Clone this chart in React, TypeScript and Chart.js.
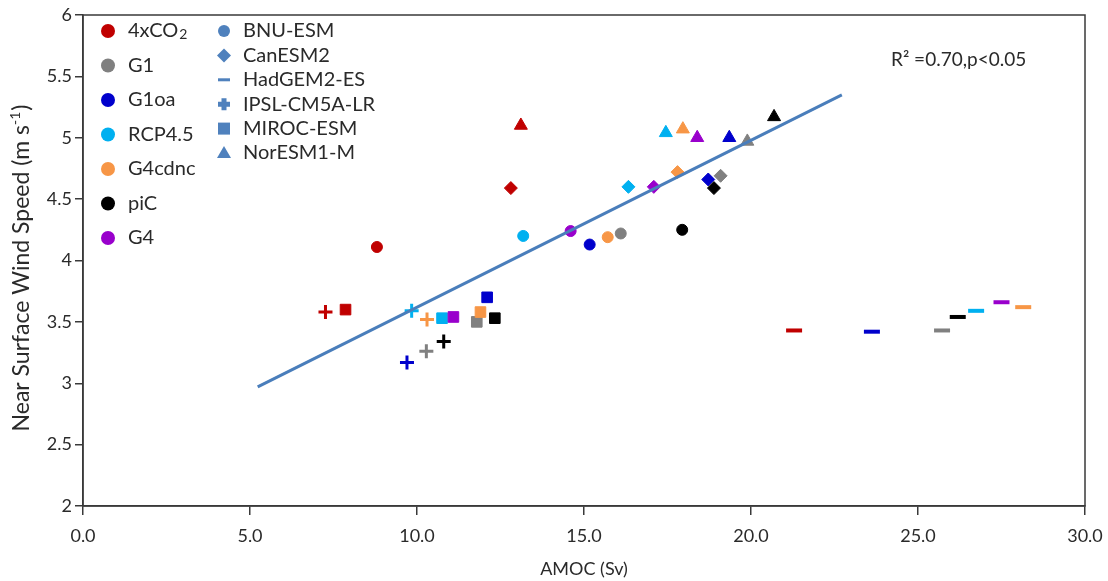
import React, { useEffect, useRef } from 'react';
import { Chart, registerables } from 'chart.js';

Chart.register(...registerables);

// Experiments (colours) and models (marker shapes)
const experiments = ['4xCO2', 'G1', 'G1oa', 'RCP4.5', 'G4cdnc', 'piC', 'G4'];
const experimentColors = ['#c00000', '#808080', '#0000cc', '#00b0f0', '#f79646', '#000000', '#9900cc'];
const models = ['BNU-ESM', 'CanESM2', 'HadGEM2-ES', 'IPSL-CM5A-LR', 'MIROC-ESM', 'NorESM1-M'];

// Values per model, in experiment order: 4xCO2, G1, G1oa, RCP4.5, G4cdnc, piC, G4
const bnuX = [8.8, 16.1, 15.17, 13.18, 15.71, 17.94, 14.6];
const bnuY = [4.11, 4.22, 4.13, 4.2, 4.19, 4.25, 4.24];
const canX = [12.81, 19.09, 18.72, 16.33, 17.8, 18.89, 17.09];
const canY = [4.59, 4.69, 4.66, 4.6, 4.72, 4.59, 4.6];
const hadX = [21.29, 25.72, 23.62, 26.74, 28.15, 26.19, 27.5];
const hadY = [3.43, 3.43, 3.42, 3.59, 3.62, 3.54, 3.66];
const ipslX = [7.26, 10.28, 9.7, 9.84, 10.3, 10.8, null];
const ipslY = [3.58, 3.26, 3.17, 3.59, 3.52, 3.34, null];
const mirocX = [7.86, 11.79, 12.1, 10.75, 11.9, 12.33, 11.09];
const mirocY = [3.6, 3.5, 3.7, 3.53, 3.58, 3.53, 3.54];
const norX = [13.11, 19.89, 19.35, 17.45, 17.96, 20.69, 18.39];
const norY = [5.1, 4.97, 5.0, 5.04, 5.07, 5.17, 5.0];

// Regression line end points
const fitX = [5.23, 22.72];
const fitY = [2.97, 5.35];

const xTickValues = [0, 5, 10, 15, 20, 25, 30];
const yTickValues = [2, 2.5, 3, 3.5, 4, 4.5, 5, 5.5, 6];

const FONT = 'Lato, "Open Sans", sans-serif';
const LEGEND_BLUE = '#4f81bd';
const FIT_BLUE = '#4a7ebb';
const AXIS_COLOR = '#3a3a3a';
const TEXT_COLOR = '#2a2a2a';

function toPoints(xs: (number | null)[], ys: (number | null)[]) {
  const pts: { x: number; y: number; c: string }[] = [];
  xs.forEach((x, i) => {
    const y = ys[i];
    if (x !== null && y !== null) pts.push({ x: x as number, y: y as number, c: experimentColors[i] });
  });
  return pts;
}

const modelSeries = [
  { name: models[0], xs: bnuX, ys: bnuY, style: 'circle', radius: 5.5, bw: 1 },
  { name: models[1], xs: canX, ys: canY, style: 'rectRot', radius: 6.5, bw: 1 },
  { name: models[2], xs: hadX, ys: hadY, style: 'line', radius: 8, bw: 4 },
  { name: models[3], xs: ipslX, ys: ipslY, style: 'cross', radius: 7, bw: 3 },
  { name: models[4], xs: mirocX, ys: mirocY, style: 'rect', radius: 7.5, bw: 1 },
  { name: models[5], xs: norX, ys: norY, style: 'triangle', radius: 7.5, bw: 1 },
];

function drawShape(ctx: CanvasRenderingContext2D, style: string, x: number, y: number, color: string) {
  ctx.save();
  ctx.fillStyle = color;
  ctx.strokeStyle = color;
  ctx.beginPath();
  if (style === 'circle') {
    ctx.arc(x, y, 6, 0, Math.PI * 2);
    ctx.fill();
  } else if (style === 'rectRot') {
    ctx.moveTo(x, y - 7);
    ctx.lineTo(x + 7, y);
    ctx.lineTo(x, y + 7);
    ctx.lineTo(x - 7, y);
    ctx.closePath();
    ctx.fill();
  } else if (style === 'line') {
    ctx.fillRect(x - 6, y - 1.5, 12, 3);
  } else if (style === 'cross') {
    ctx.lineWidth = 5;
    ctx.moveTo(x - 6, y);
    ctx.lineTo(x + 6, y);
    ctx.moveTo(x, y - 6);
    ctx.lineTo(x, y + 6);
    ctx.stroke();
  } else if (style === 'rect') {
    ctx.fillRect(x - 6, y - 6, 12, 12);
  } else if (style === 'triangle') {
    ctx.moveTo(x, y - 7);
    ctx.lineTo(x + 7, y + 5);
    ctx.lineTo(x - 7, y + 5);
    ctx.closePath();
    ctx.fill();
  }
  ctx.restore();
}

const decorPlugin = {
  id: 'decor',
  beforeDatasetsDraw(chart: any) {
    const { ctx, chartArea } = chart;
    ctx.save();
    ctx.strokeStyle = AXIS_COLOR;
    ctx.lineWidth = 1.5;
    ctx.strokeRect(chartArea.left, chartArea.top, chartArea.right - chartArea.left, chartArea.bottom - chartArea.top);
    ctx.restore();
  },
  afterDraw(chart: any) {
    const { ctx } = chart;
    ctx.save();
    ctx.fillStyle = TEXT_COLOR;
    ctx.textBaseline = 'middle';
    ctx.textAlign = 'left';

    // Legend column 1: experiments
    experiments.forEach((name, i) => {
      const y = 31 + i * 34.5;
      ctx.beginPath();
      ctx.fillStyle = experimentColors[i];
      ctx.arc(108, y, 7, 0, Math.PI * 2);
      ctx.fill();
      ctx.fillStyle = TEXT_COLOR;
      ctx.font = `20px ${FONT}`;
      if (name === '4xCO2') {
        const base = '4xCO';
        ctx.fillText(base, 128, y);
        const w = ctx.measureText(base).width;
        ctx.font = `14px ${FONT}`;
        ctx.fillText('2', 128 + w + 1, y + 3);
      } else {
        ctx.fillText(name, 128, y);
      }
    });

    // Legend column 2: models
    modelSeries.forEach((m, i) => {
      const y = 31 + i * 24.4;
      drawShape(ctx, m.style, 224, y, LEGEND_BLUE);
      ctx.fillStyle = TEXT_COLOR;
      ctx.font = `20px ${FONT}`;
      ctx.fillText(m.name, 243, y);
    });

    // R² annotation
    ctx.font = `19px ${FONT}`;
    ctx.fillStyle = TEXT_COLOR;
    ctx.fillText('R² =0.70,p<0.05', 891, 60);

    // Y-axis title with superscript
    ctx.translate(22, 268);
    ctx.rotate(-Math.PI / 2);
    const main = 'Near Surface Wind Speed (m s';
    ctx.font = `23px ${FONT}`;
    const w1 = ctx.measureText(main).width;
    ctx.font = `14px ${FONT}`;
    const w2 = ctx.measureText('-1').width;
    ctx.font = `23px ${FONT}`;
    const w3 = ctx.measureText(')').width;
    const total = w1 + w2 + w3 + 1;
    let x0 = -total / 2;
    ctx.fillText(main, x0, 0);
    x0 += w1;
    ctx.font = `14px ${FONT}`;
    ctx.fillText('-1', x0, -7);
    x0 += w2 + 1;
    ctx.font = `23px ${FONT}`;
    ctx.fillText(')', x0, 0);
    ctx.restore();
  },
};

export default function App() {
  const canvasRef = useRef<HTMLCanvasElement | null>(null);

  useEffect(() => {
    const canvas = canvasRef.current;
    if (!canvas) return;

    const datasets: any[] = [
      {
        label: 'fit',
        data: fitX.map((x, i) => ({ x, y: fitY[i] })),
        showLine: true,
        borderColor: FIT_BLUE,
        borderWidth: 3,
        pointRadius: 0,
        fill: false,
      },
    ];
    modelSeries.forEach((m) => {
      const pts = toPoints(m.xs, m.ys);
      datasets.push({
        label: m.name,
        data: pts.map((p) => ({ x: p.x, y: p.y })),
        pointStyle: m.style,
        pointRadius: m.radius,
        pointBackgroundColor: pts.map((p) => p.c),
        pointBorderColor: pts.map((p) => p.c),
        pointBorderWidth: m.bw,
        showLine: false,
      });
    });

    const chart = new Chart(canvas, {
      type: 'scatter',
      data: { datasets },
      options: {
        responsive: false,
        animation: false,
        devicePixelRatio: 1,
        layout: { padding: { left: 0, right: 23, top: 15, bottom: 0 } },
        plugins: { legend: { display: false }, tooltip: { enabled: false } },
        scales: {
          x: {
            type: 'linear',
            min: 0,
            max: 30,
            afterBuildTicks: (scale: any) => {
              scale.ticks = xTickValues.map((v) => ({ value: v }));
            },
            afterFit: (scale: any) => {
              scale.height = 75;
              scale.paddingLeft = 0;
              scale.paddingRight = 0;
            },
            ticks: {
              autoSkip: false,
              maxRotation: 0,
              padding: 10,
              color: TEXT_COLOR,
              font: { family: FONT, size: 18 },
              callback: (v: any) => Number(v).toFixed(1),
            },
            grid: { drawOnChartArea: false, drawTicks: true, tickLength: 9, color: AXIS_COLOR, lineWidth: 1.5 },
            border: { display: true, color: AXIS_COLOR, width: 1.5 },
            title: {
              display: true,
              text: 'AMOC (Sv)',
              color: TEXT_COLOR,
              font: { family: FONT, size: 18 },
              padding: { top: 0, bottom: 1 },
            },
          },
          y: {
            type: 'linear',
            min: 2,
            max: 6,
            afterBuildTicks: (scale: any) => {
              scale.ticks = yTickValues.map((v) => ({ value: v }));
            },
            afterFit: (scale: any) => {
              scale.width = 83;
              scale.paddingTop = 0;
              scale.paddingBottom = 0;
            },
            ticks: {
              autoSkip: false,
              padding: 3,
              color: TEXT_COLOR,
              font: { family: FONT, size: 18 },
              callback: (v: any) => String(v),
            },
            grid: { drawOnChartArea: false, drawTicks: true, tickLength: 8, color: AXIS_COLOR, lineWidth: 1.5 },
            border: { display: true, color: AXIS_COLOR, width: 1.5 },
          },
        },
      },
      plugins: [decorPlugin],
    } as any);

    return () => chart.destroy();
  }, []);

  return (
    <div style={{ position: 'absolute', left: 0, top: 0, width: 1108, height: 581, background: '#fff' }}>
      <canvas ref={canvasRef} width={1108} height={581} style={{ display: 'block' }} />
    </div>
  );
}
